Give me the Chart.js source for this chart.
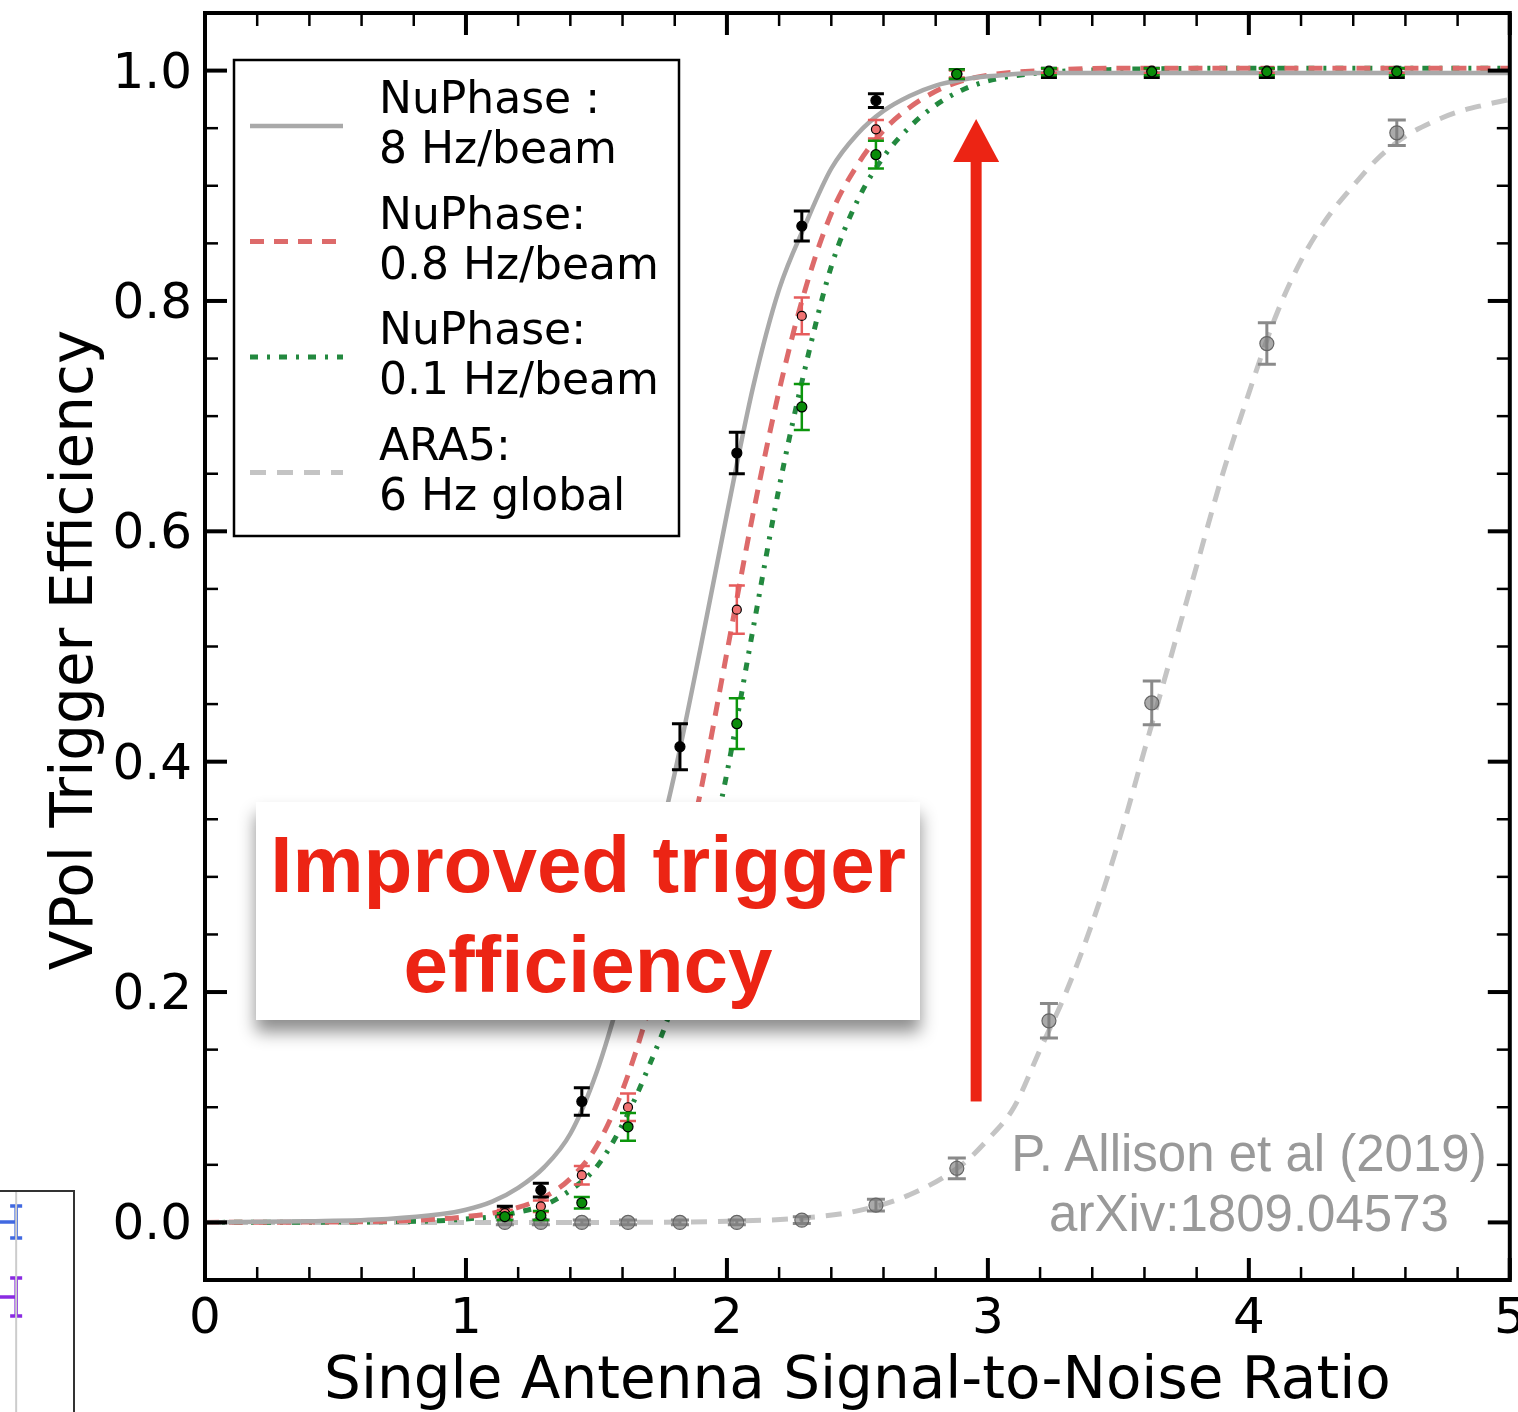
<!doctype html>
<html lang="en">
<head>
<meta charset="utf-8">
<title>VPol Trigger Efficiency</title>
<script src="https://cdn.jsdelivr.net/npm/chart.js@4.4.1/dist/chart.umd.min.js"></script>
<style>
  html, body { margin: 0; padding: 0; background: #fff; }
  body { width: 1518px; height: 1412px; position: relative; overflow: hidden; }
  #main { position: absolute; left: 0; top: 0; }
  #frag { position: absolute; left: 0; top: 1190px; }
  .callout {
    position: absolute; left: 256px; top: 802px; width: 664px; height: 218px;
    box-sizing: border-box; padding-top: 13px;
    background: #fff; box-shadow: 0 12px 16px rgba(0,0,0,0.45);
    font: bold 80px 'Liberation Sans', Arial, sans-serif; line-height: 100px;
    color: #ec2414; text-align: center;
  }
  .cite {
    position: absolute; left: 989px; top: 1124px; width: 520px;
    font: 51px 'Liberation Sans', Arial, sans-serif; line-height: 60px;
    color: #999; text-align: center; white-space: nowrap;
  }
</style>
</head>
<body>
<canvas id="main" width="1518" height="1412"></canvas>
<canvas id="frag" width="76" height="222"></canvas>
<div class="callout">Improved trigger<br>efficiency</div>
<div class="cite">P. Allison et al (2019)<br>arXiv:1809.04573</div>

<script>
// ---- fitted curves ----
const curveX = [0, 0.4, 0.7, 0.9, 1.0, 1.1, 1.2, 1.3, 1.4, 1.5, 1.6, 1.7, 1.8, 1.9, 2.0,
                2.1, 2.2, 2.3, 2.4, 2.5, 2.6, 2.7, 2.8, 2.9, 3.0, 3.2, 3.5, 4.0, 4.5, 5.0];
const fit8Hz  = [0, 0.001, 0.003, 0.007, 0.011, 0.018, 0.030, 0.048, 0.077, 0.130, 0.205, 0.295, 0.390, 0.500, 0.615,
                 0.725, 0.810, 0.866, 0.915, 0.945, 0.965, 0.978, 0.987, 0.992, 0.995, 0.998, 0.998, 0.998, 0.998, 0.998];
const fit08Hz = [0, 0.0003, 0.001, 0.003, 0.005, 0.008, 0.013, 0.022, 0.038, 0.066, 0.115, 0.185, 0.275, 0.375, 0.495,
                 0.615, 0.722, 0.810, 0.876, 0.918, 0.948, 0.968, 0.982, 0.991, 0.996, 1.000, 1.002, 1.002, 1.002, 1.002];
const fit01Hz = [0, 0.0002, 0.0006, 0.0015, 0.003, 0.005, 0.009, 0.015, 0.028, 0.048, 0.085, 0.135, 0.195, 0.285, 0.390,
                 0.515, 0.638, 0.742, 0.830, 0.887, 0.925, 0.951, 0.970, 0.983, 0.991, 0.998, 1.001, 1.002, 1.002, 1.002];

const araX   = [0, 1.0, 1.5, 2.0, 2.3, 2.5, 2.7, 2.9, 3.0, 3.1, 3.2, 3.3, 3.4, 3.5, 3.6,
                3.7, 3.8, 3.9, 4.0, 4.1, 4.2, 4.3, 4.4, 4.5, 4.6, 4.7, 4.8, 4.9, 5.0];
const fitAra = [0, 0, 0, 0.001, 0.004, 0.010, 0.024, 0.050, 0.072, 0.100, 0.150, 0.200, 0.260, 0.330, 0.410,
                0.490, 0.570, 0.650, 0.720, 0.785, 0.835, 0.872, 0.900, 0.925, 0.943, 0.955, 0.964, 0.970, 0.975];

// ---- measured points with error bars ----
const snrX   = [1.149, 1.287, 1.444, 1.621, 1.820, 2.038, 2.287, 2.571, 2.881, 3.234, 3.628, 4.069, 4.567];
const eff8Hz  = [0.010, 0.028, 0.105, 0.245, 0.413, 0.668, 0.865, 0.974, 0.997, 0.998, 0.998, 0.998, 0.998];
const err8Hz  = [0.004, 0.006, 0.012, 0.020, 0.020, 0.018, 0.013, 0.006, 0.004, 0.004, 0.004, 0.004, 0.004];
const eff08Hz = [0.008, 0.014, 0.041, 0.100, 0.300, 0.532, 0.787, 0.949, 0.997, 1.000, 1.000, 1.000, 1.000];
const err08Hz = [0.003, 0.005, 0.008, 0.012, 0.020, 0.021, 0.016, 0.008, 0.003, 0.002, 0.002, 0.002, 0.002];
const eff01Hz = [0.005, 0.006, 0.017, 0.083, 0.200, 0.433, 0.708, 0.927, 0.997, 0.999, 0.999, 0.999, 0.999];
const err01Hz = [0.003, 0.004, 0.005, 0.012, 0.020, 0.022, 0.020, 0.012, 0.004, 0.003, 0.003, 0.003, 0.003];
const effAra  = [0, 0, 0, 0, 0, 0, 0.002, 0.015, 0.047, 0.175, 0.451, 0.763, 0.946];
const errAra  = [0.002, 0.002, 0.002, 0.002, 0.002, 0.002, 0.003, 0.005, 0.009, 0.015, 0.019, 0.018, 0.011];

const legendLabels = ['NuPhase :\n8 Hz/beam', 'NuPhase:\n0.8 Hz/beam', 'NuPhase:\n0.1 Hz/beam', 'ARA5:\n6 Hz global'];

// ---- axes ----
const xTickValues = [0, 1, 2, 3, 4, 5];
const xTickLabels = ['0', '1', '2', '3', '4', '5'];
const yTickValues = [0, 0.2, 0.4, 0.6, 0.8, 1.0];
const yTickLabels = ['0.0', '0.2', '0.4', '0.6', '0.8', '1.0'];
const xTitle = 'Single Antenna Signal-to-Noise Ratio';
const yTitle = 'VPol Trigger Efficiency';

// arrow annotation, in data units
const arrowX = 2.955, arrowFrom = 0.105, arrowTo = 0.958;

// cropped neighbour figure at bottom-left
const fragY = [0.856, 0.518];
const fragYErr = [0.072, 0.086];
const fragColors = ['#4169e1', '#8a2be2'];

const pts = (xs, ys) => xs.map((x, i) => ({ x, y: ys[i] }));

const errorBars = {
  id: 'errorBars',
  beforeDatasetDraw(chart, args) {
    const ds = chart.data.datasets[args.index];
    if (!ds.yErr && !ds.xErrLeft) return;
    const { ctx, chartArea: a, scales: { x, y } } = chart;
    ctx.save();
    ctx.beginPath();
    ctx.rect(a.left, a.top, a.right - a.left, a.bottom - a.top);
    ctx.clip();
    ctx.strokeStyle = ds.errColor;
    ctx.lineWidth = ds.errWidth;
    const cap = ds.capSize;
    ds.data.forEach((p, i) => {
      const px = x.getPixelForValue(p.x);
      const py = y.getPixelForValue(p.y);
      ctx.beginPath();
      if (ds.errColors) ctx.strokeStyle = ds.errColors[i];
      if (ds.yErr) {
        const t = y.getPixelForValue(p.y + ds.yErr[i]);
        const b = y.getPixelForValue(p.y - ds.yErr[i]);
        ctx.moveTo(px, t); ctx.lineTo(px, b);
        ctx.moveTo(px - cap, t); ctx.lineTo(px + cap, t);
        ctx.moveTo(px - cap, b); ctx.lineTo(px + cap, b);
      }
      if (ds.xErrLeft) {
        ctx.moveTo(px, py); ctx.lineTo(x.getPixelForValue(p.x - ds.xErrLeft[i]), py);
      }
      ctx.stroke();
    });
    ctx.restore();
  }
};

function drawLegend(chart) {
  const ctx = chart.ctx;
  const bx = 234, by = 60, bw = 445, bh = 476;
  ctx.save();
  ctx.fillStyle = '#fff';
  ctx.fillRect(bx, by, bw, bh);
  ctx.strokeStyle = '#000';
  ctx.lineWidth = 2.5;
  ctx.strokeRect(bx, by, bw, bh);
  const curves = chart.data.datasets.filter(d => d.isFit);
  curves.forEach((ds, i) => {
    const ly = 126 + i * 115.5;
    ctx.beginPath();
    ctx.strokeStyle = ds.borderColor;
    ctx.lineWidth = ds.borderWidth;
    ctx.setLineDash(ds.borderDash || []);
    ctx.moveTo(250, ly); ctx.lineTo(343, ly);
    ctx.stroke();
    ctx.setLineDash([]);
    ctx.fillStyle = '#000';
    ctx.font = '44px "DejaVu Sans"';
    ctx.textAlign = 'left';
    ctx.textBaseline = 'alphabetic';
    ds.label.split('\n').forEach((line, k) => {
      ctx.fillText(line, 379, 113 + i * 115.5 + k * 50);
    });
  });
  ctx.restore();
}

const frame = {
  id: 'frame',
  afterDatasetsDraw(chart) {
    const { ctx, chartArea: a, scales: { x, y } } = chart;
    drawLegend(chart);

    // red arrow
    ctx.save();
    const ax = x.getPixelForValue(arrowX);
    const ay0 = y.getPixelForValue(arrowFrom);
    const ay1 = y.getPixelForValue(arrowTo);
    ctx.fillStyle = '#ec2414';
    ctx.fillRect(ax - 5.5, ay1 + 40, 11, ay0 - ay1 - 40);
    ctx.beginPath();
    ctx.moveTo(ax, ay1);
    ctx.lineTo(ax + 23, ay1 + 43);
    ctx.lineTo(ax - 23, ay1 + 43);
    ctx.closePath();
    ctx.fill();
    ctx.restore();

    // inward ticks on all four sides
    ctx.save();
    ctx.strokeStyle = '#000';
    const tick = (x1, y1, x2, y2, w) => {
      ctx.lineWidth = w;
      ctx.beginPath(); ctx.moveTo(x1, y1); ctx.lineTo(x2, y2); ctx.stroke();
    };
    for (let v = 0; v <= 5.0001; v += 0.2) {
      const major = Math.abs(v - Math.round(v)) < 1e-6;
      const len = major ? 22 : 13, w = major ? 4 : 2.5;
      const px = x.getPixelForValue(v);
      tick(px, a.bottom, px, a.bottom - len, w);
      tick(px, a.top, px, a.top + len, w);
    }
    for (let k = -1; k <= 21; k++) {
      const v = k * 0.05;
      const major = k % 4 === 0;
      const len = major ? 22 : 13, w = major ? 4 : 2.5;
      const py = y.getPixelForValue(v);
      tick(a.left, py, a.left + len, py, w);
      tick(a.right, py, a.right - len, py, w);
    }
    ctx.lineWidth = 4;
    ctx.strokeRect(a.left, a.top, a.right - a.left, a.bottom - a.top);

    // tick labels
    ctx.fillStyle = '#000';
    ctx.font = '50px "DejaVu Sans"';
    ctx.textBaseline = 'alphabetic';
    ctx.textAlign = 'center';
    xTickValues.forEach((v, i) => ctx.fillText(xTickLabels[i], x.getPixelForValue(v), 1333));
    ctx.textAlign = 'right';
    yTickValues.forEach((v, i) => ctx.fillText(yTickLabels[i], 192, y.getPixelForValue(v) + 17));

    // axis titles
    ctx.font = '58px "DejaVu Sans"';
    ctx.textAlign = 'center';
    ctx.fillText(xTitle, (a.left + a.right) / 2, 1398);
    ctx.translate(92, 650);
    ctx.rotate(-Math.PI / 2);
    ctx.fillText(yTitle, 0, 0);
    ctx.restore();
  }
};

const whiteBg = {
  id: 'whiteBg',
  beforeDraw(chart) {
    const c = chart.ctx;
    c.save(); c.fillStyle = '#fff'; c.fillRect(0, 0, chart.width, chart.height); c.restore();
  }
};

function fitLine(label, xs, ys, color, width, dash, order) {
  return {
    label, isFit: true, data: pts(xs, ys), showLine: true, pointRadius: 0,
    borderColor: color, borderWidth: width, borderDash: dash, borderCapStyle: 'butt',
    cubicInterpolationMode: 'monotone', order,
  };
}

function points(ys, errs, fill, edge, radius, errColor, errWidth, capSize, order) {
  return {
    data: pts(snrX, ys), yErr: errs, showLine: false,
    pointRadius: radius, pointBackgroundColor: fill, pointBorderColor: edge, pointBorderWidth: 1.2,
    errColor, errWidth, capSize, order,
  };
}

new Chart(document.getElementById('main'), {
  type: 'scatter',
  data: {
    datasets: [
      fitLine(legendLabels[0], curveX, fit8Hz, '#a9a9a9', 4.5, [], 10),
      fitLine(legendLabels[1], curveX, fit08Hz, '#dd6a6a', 5, [14, 10], 11),
      fitLine(legendLabels[2], curveX, fit01Hz, '#23893f', 5, [8, 9, 3, 9], 12),
      fitLine(legendLabels[3], araX, fitAra, '#c4c4c4', 5, [16, 11], 13),
      points(effAra, errAra, 'rgba(125,125,125,0.65)', '#666', 7, '#8a8a8a', 3, 9, 3),
      points(eff8Hz, err8Hz, '#000', '#000', 5, '#000', 3, 8, 2),
      points(eff08Hz, err08Hz, '#f07272', '#000', 4.5, '#e65c5c', 2.5, 8, 1),
      points(eff01Hz, err01Hz, '#0a8c0a', '#000', 5, '#0c960c', 2.5, 8, 0),
    ],
  },
  options: {
    responsive: false,
    animation: false,
    devicePixelRatio: 1,
    events: [],
    layout: { padding: { left: 205, top: 13, right: 8, bottom: 132 } },
    plugins: { legend: { display: false }, tooltip: { enabled: false } },
    scales: {
      x: { type: 'linear', display: false, min: 0, max: 5 },
      y: { type: 'linear', display: false, min: -0.05, max: 1.05 },
    },
  },
  plugins: [whiteBg, errorBars, frame],
});

// small piece of the neighbouring figure that is cut off at bottom-left
const fragFrame = {
  id: 'fragFrame',
  afterDraw(chart) {
    const { ctx, scales: { x } } = chart;
    ctx.save();
    ctx.strokeStyle = '#ccc'; ctx.lineWidth = 2;
    const gx = x.getPixelForValue(0);
    ctx.beginPath(); ctx.moveTo(gx, 1); ctx.lineTo(gx, chart.height); ctx.stroke();
    ctx.strokeStyle = '#333'; ctx.lineWidth = 2;
    ctx.beginPath(); ctx.moveTo(0, 1); ctx.lineTo(74, 1); ctx.lineTo(74, chart.height); ctx.stroke();
    ctx.restore();
  }
};

new Chart(document.getElementById('frag'), {
  type: 'scatter',
  data: {
    datasets: [{
      data: pts([0, 0], fragY), yErr: fragYErr, xErrLeft: [1, 1], pointRadius: 0,
      errColor: fragColors[0], errColors: fragColors, errWidth: 3.5, capSize: 6,
    }],
  },
  options: {
    responsive: false, animation: false, devicePixelRatio: 1, events: [],
    layout: { padding: 0 },
    plugins: { legend: { display: false }, tooltip: { enabled: false } },
    scales: {
      x: { type: 'linear', display: false, min: -0.27, max: 1 },
      y: { type: 'linear', display: false, min: 0, max: 1 },
    },
  },
  plugins: [errorBars, fragFrame],
});
</script>
</body>
</html>
